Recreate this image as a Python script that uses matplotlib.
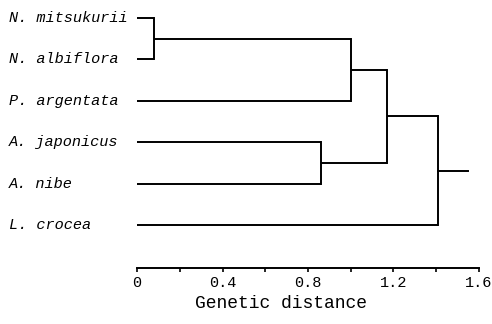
import matplotlib
matplotlib.use('Agg')
import matplotlib.pyplot as plt

# leaves, top to bottom
species = ['N. mitsukurii', 'N. albiflora', 'P. argentata',
           'A. japonicus', 'A. nibe', 'L. crocea']
# merges: (left node, right node, genetic distance); new nodes numbered after leaves
merges = [(0, 1, 0.08),
          (6, 2, 1.00),
          (3, 4, 0.86),
          (7, 8, 1.17),
          (9, 5, 1.41)]
root_tip = 1.55

mono = 'Liberation Mono'

fig = plt.figure(figsize=(4.92, 3.24), dpi=100)
ax = fig.add_axes([137/492, 1-268/324, (479-137)/492, (268-5)/324])

n = len(species)
ypos = {i: n-1-i for i in range(n)}
xpos = {i: 0.0 for i in range(n)}
lw = 1.4
for k, (a, b, h) in enumerate(merges):
    for c in (a, b):
        ax.plot([xpos[c], h], [ypos[c], ypos[c]], color='black', lw=lw, solid_capstyle='butt')
    ax.plot([h, h], [ypos[a], ypos[b]], color='black', lw=lw, solid_capstyle='projecting')
    node = n + k
    xpos[node] = h
    ypos[node] = (ypos[a] + ypos[b]) / 2
last = n + len(merges) - 1
ax.plot([xpos[last], root_tip], [ypos[last], ypos[last]], color='black', lw=lw)

for i, name in enumerate(species):
    fig.text(9/492, 1-(18+41.4*i)/324, name, family=mono, style='italic',
             fontsize=11, va='center', ha='left')

ax.set_xlim(0, 1.6)
ax.set_ylim(-1.04, 5.31)
for s in ['top', 'right', 'left']:
    ax.spines[s].set_visible(False)
ax.spines['bottom'].set_linewidth(1.4)
ax.set_yticks([])
ax.set_xticks([0, 0.4, 0.8, 1.2, 1.6])
ax.set_xticklabels(['0', '0.4', '0.8', '1.2', '1.6'], family=mono, fontsize=11)
ax.set_xticks([0.2, 0.6, 1.0, 1.4], minor=True)
ax.tick_params(axis='x', which='both', direction='out', length=3, width=1.2, pad=3)
ax.set_xlabel('Genetic distance', family=mono, fontsize=13, va='center')
ax.xaxis.set_label_coords(0.42, -35/263)

fig.savefig('out.png', dpi=100)
